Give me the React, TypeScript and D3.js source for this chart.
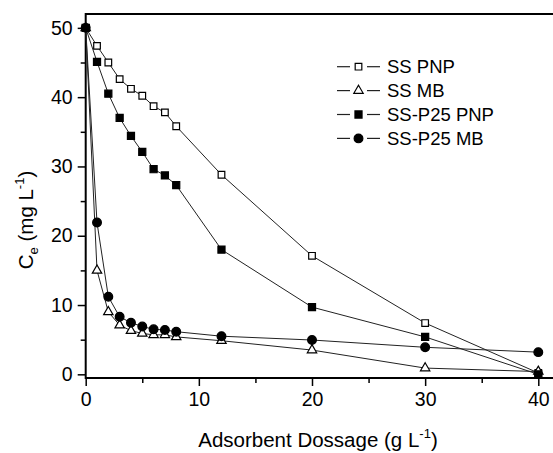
import * as React from "react";
import * as d3 from "d3";

// dosage in g/L, concentrations in mg/L
const dosage = [0, 1, 2, 3, 4, 5, 6, 7, 8, 12, 20, 30, 40];
const ssPnp = [50, 47.4, 45.0, 42.6, 41.2, 40.2, 38.7, 37.8, 35.8, 28.8, 17.1, 7.4, 0.2];
const ssMb = [50, 15.0, 9.0, 7.1, 6.3, 5.9, 5.7, 5.7, 5.4, 4.85, 3.5, 0.9, 0.4];
const p25Pnp = [50, 45.1, 40.5, 37.0, 34.4, 32.1, 29.6, 28.7, 27.3, 18.0, 9.7, 5.4, 0];
const p25Mb = [50, 21.9, 11.2, 8.3, 7.45, 6.9, 6.5, 6.4, 6.15, 5.5, 4.95, 3.9, 3.2];

const seriesNames = ["SS PNP", "SS MB", "SS-P25 PNP", "SS-P25 MB"];
const xTicks = [0, 10, 20, 30, 40];
const xMinor = [5, 15, 25, 35];
const yTicks = [0, 10, 20, 30, 40, 50];
const yMinor = [5, 15, 25, 35, 45];

const width = 553;
const height = 453;
const font = "'Liberation Sans', Arial, Helvetica, sans-serif";

const series = [
  { name: seriesNames[0], values: ssPnp, symbol: d3.symbolSquare, size: 44, filled: false },
  { name: seriesNames[1], values: ssMb, symbol: d3.symbolTriangle, size: 38, filled: false },
  { name: seriesNames[2], values: p25Pnp, symbol: d3.symbolSquare, size: 50, filled: true },
  { name: seriesNames[3], values: p25Mb, symbol: d3.symbolCircle, size: 60, filled: true },
];

function App() {
  const ref = React.useRef<SVGSVGElement>(null);

  React.useEffect(() => {
    const svg = d3.select(ref.current);
    svg.selectAll("*").remove();

    const x = d3.scaleLinear().domain([0, 41.6]).range([85.7, 556.4]);
    const y = d3.scaleLinear().domain([-0.53, 52]).range([378, 14]);

    const g = svg.append("g");

    // minor ticks
    g.append("g")
      .attr("transform", `translate(0, ${y.range()[0]})`)
      .call(d3.axisBottom(x).tickValues(xMinor).tickSize(5).tickFormat(() => ""))
      .call((n) => n.select(".domain").remove());
    g.append("g")
      .attr("transform", `translate(${x.range()[0]}, 0)`)
      .call(d3.axisLeft(y).tickValues(yMinor).tickSize(5).tickFormat(() => ""))
      .call((n) => n.select(".domain").remove());

    // major ticks
    g.append("g")
      .attr("class", "x axis")
      .attr("transform", `translate(0, ${y.range()[0]})`)
      .call(d3.axisBottom(x).tickValues(xTicks).tickSize(8).tickPadding(6).tickFormat(d3.format("d")))
      .call((n) => n.select(".domain").remove());
    g.append("g")
      .attr("class", "y axis")
      .attr("transform", `translate(${x.range()[0]}, 0)`)
      .call(d3.axisLeft(y).tickValues(yTicks).tickSize(8).tickPadding(5).tickFormat(d3.format("d")))
      .call((n) => n.select(".domain").remove());

    g.selectAll(".tick line").attr("stroke", "#000").attr("stroke-width", 1.5);
    g.selectAll(".tick text")
      .attr("fill", "#000")
      .attr("font-size", 19.5)
      .attr("font-family", font);

    // frame
    const [x0, x1] = x.range();
    const [y0, y1] = y.range();
    g.append("path")
      .attr("d", `M${x1},${y1}H${x0}V${y0}H${x1}`)
      .attr("fill", "none")
      .attr("stroke", "#000")
      .attr("stroke-width", 2);

    // lines
    const line = d3
      .line<number>()
      .x((_, i) => x(dosage[i]))
      .y((d) => y(d));

    series.forEach((s) => {
      g.append("path")
        .attr("d", line(s.values))
        .attr("fill", "none")
        .attr("stroke", "#222")
        .attr("stroke-width", 1);
    });

    series.forEach((s) => {
      const sym = d3.symbol().type(s.symbol).size(s.size);
      g.selectAll(null)
        .data(s.values)
        .enter()
        .append("path")
        .attr("transform", (d, i) => `translate(${x(dosage[i])}, ${y(d)})`)
        .attr("d", sym())
        .attr("fill", s.filled ? "#000" : "#fff")
        .attr("stroke", "#000")
        .attr("stroke-width", 1.2);
    });

    // legend
    const legend = g.append("g").attr("transform", "translate(337, 66.7)");
    series.forEach((s, i) => {
      const row = legend.append("g").attr("transform", `translate(0, ${i * 23.9})`);
      row.append("line").attr("x1", 0).attr("x2", 13).attr("stroke", "#222").attr("stroke-width", 1.2);
      row.append("line").attr("x1", 30).attr("x2", 43).attr("stroke", "#222").attr("stroke-width", 1.2);
      row.append("path")
        .attr("transform", "translate(21.5, 0)")
        .attr("d", d3.symbol().type(s.symbol).size(s.size)())
        .attr("fill", s.filled ? "#000" : "#fff")
        .attr("stroke", "#000")
        .attr("stroke-width", 1.2);
      row.append("text")
        .attr("x", 50)
        .attr("dy", "0.36em")
        .attr("font-size", 18.5)
        .attr("font-family", font)
        .text(s.name);
    });

    // x title
    const xt = g.append("text")
      .attr("x", 318)
      .attr("y", 447)
      .attr("text-anchor", "middle")
      .attr("font-size", 20.5)
      .attr("font-family", font);
    xt.append("tspan").text("Adsorbent Dossage (g L");
    xt.append("tspan").attr("dy", -9).attr("font-size", 13).text("-1");
    xt.append("tspan").attr("dy", 9).text(")");

    // y title
    const yt = g.append("text")
      .attr("transform", "translate(33, 220) rotate(-90)")
      .attr("text-anchor", "middle")
      .attr("font-size", 20.5)
      .attr("font-family", font);
    yt.append("tspan").text("C");
    yt.append("tspan").attr("dy", 5).attr("font-size", 13).text("e");
    yt.append("tspan").attr("dy", -5).text(" (mg L");
    yt.append("tspan").attr("dy", -9).attr("font-size", 13).text("-1");
    yt.append("tspan").attr("dy", 9).text(")");
  }, []);

  return (
    <svg
      ref={ref}
      width={width}
      height={height}
      style={{ position: "absolute", left: 0, top: 0, background: "#fff" }}
    />
  );
}

export default App;
